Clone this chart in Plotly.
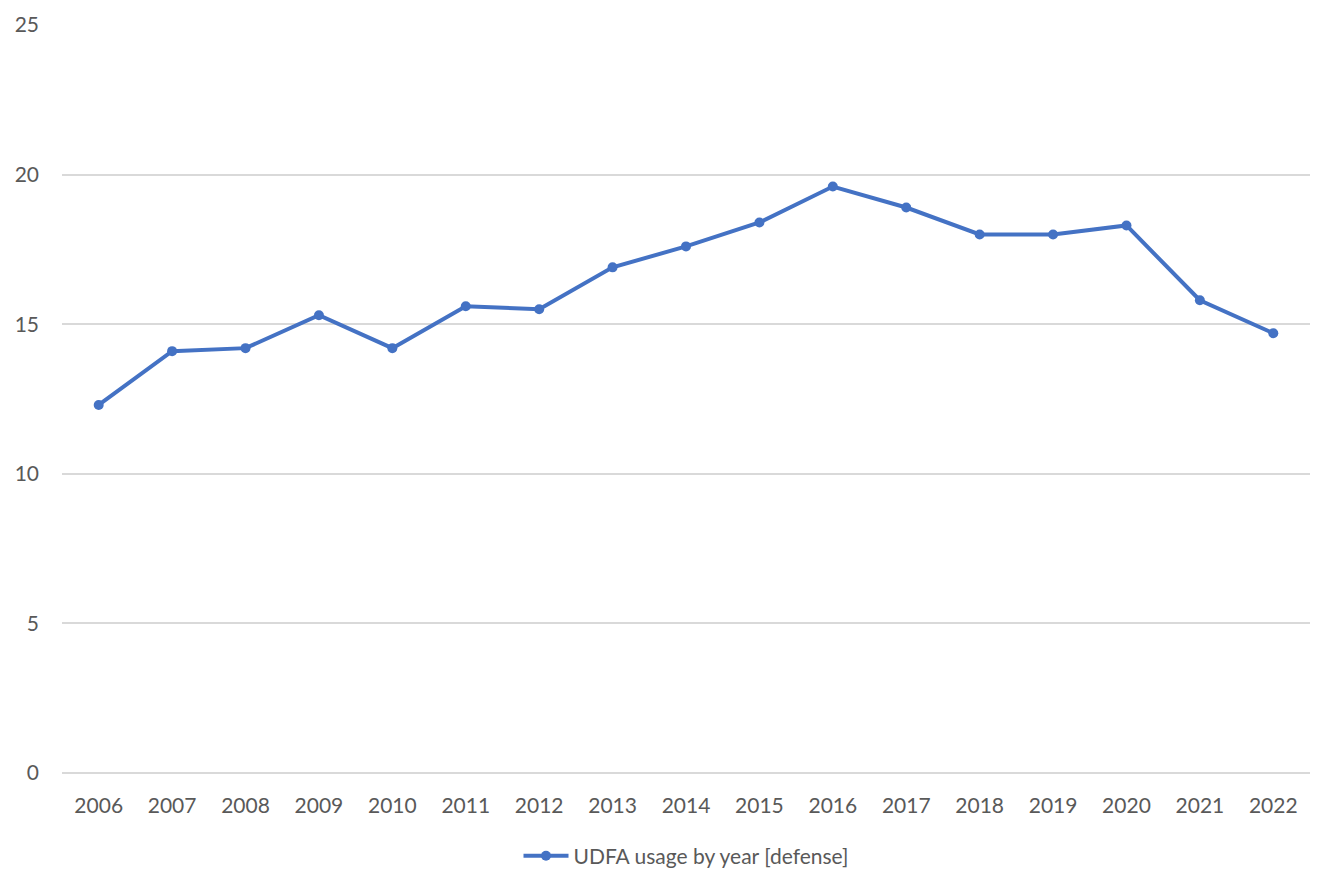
import plotly.graph_objects as go

years = [str(y) for y in range(2006, 2023)]
values = [12.3, 14.1, 14.2, 15.3, 14.2, 15.6, 15.5, 16.9, 17.6, 18.4, 19.6, 18.9, 18.0, 18.0, 18.3, 15.8, 14.7]
series_name = "UDFA usage by year [defense]"
y_ticks = [0, 5, 10, 15, 20, 25]

fig = go.Figure()
fig.add_trace(go.Scatter(
    x=years, y=values, name=series_name, mode="lines+markers",
    line=dict(color="#4472C4", width=4),
    marker=dict(color="#4472C4", size=10),
))

font = dict(family="Lato, Open Sans, sans-serif", size=21, color="#595959")
fig.update_layout(
    width=1334, height=889,
    margin=dict(l=62, r=24, t=25, b=116),
    paper_bgcolor="white", plot_bgcolor="white",
    font=font,
    showlegend=True,
    legend=dict(orientation="h", x=0.5, xanchor="center", y=-0.111, yanchor="middle",
                font=font, itemwidth=45),
    xaxis=dict(type="category", showgrid=False, showline=False, zeroline=False,
               ticks="", ticklabelstandoff=18, range=[-0.5, len(years) - 0.5]),
    yaxis=dict(range=[0, 25], tickvals=y_ticks, showgrid=True, gridcolor="#d9d9d9",
               gridwidth=1.5, zeroline=True, zerolinecolor="#d9d9d9", zerolinewidth=1.5,
               showline=False, ticks="", ticklabelstandoff=22),
)

fig.write_html("out.html")
